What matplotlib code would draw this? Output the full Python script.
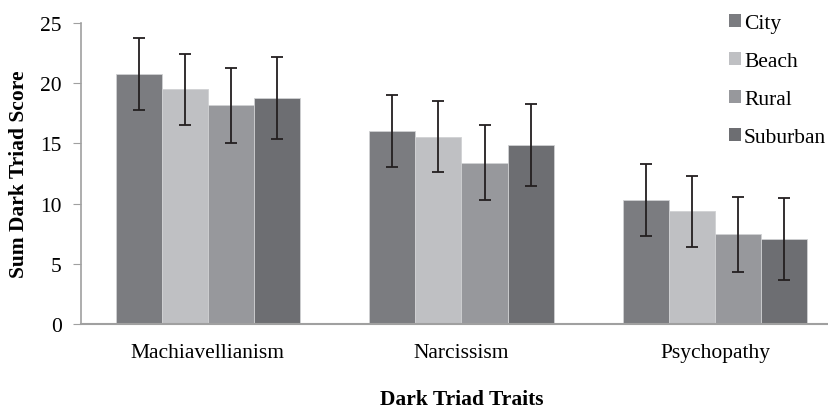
import numpy as np
import matplotlib
matplotlib.use('Agg')
import matplotlib.pyplot as plt
from matplotlib.patches import Patch

traits = ['Machiavellianism', 'Narcissism', 'Psychopathy']
groups = ['City', 'Beach', 'Rural', 'Suburban']
colors = ['#7b7c80', '#bfc0c3', '#97989c', '#6d6e72']

city = [20.75, 16.0, 10.3]
beach = [19.5, 15.55, 9.35]
rural = [18.15, 13.4, 7.45]
suburban = [18.75, 14.85, 7.05]
means = [city, beach, rural, suburban]

city_err = [3.0, 3.0, 3.03]
beach_err = [2.95, 2.95, 2.95]
rural_err = [3.1, 3.1, 3.1]
suburban_err = [3.42, 3.42, 3.42]
errs = [city_err, beach_err, rural_err, suburban_err]

plt.rcParams['font.family'] = ['Liberation Serif', 'DejaVu Serif']

fig = plt.figure(figsize=(8.29, 4.14), dpi=100)
# axes runs slightly past the right edge, like the source image
ax = fig.add_axes([81 / 829, 89 / 414, 761 / 829, 301 / 414])

x = np.arange(len(traits))
w = 0.1815
for i in range(4):
    pos = x + (i - 1.5) * w
    ax.bar(pos, means[i], w, color=colors[i], edgecolor='#d0d1d3', linewidth=0.6,
           label=groups[i], zorder=2)
    ax.errorbar(pos, means[i], yerr=errs[i], fmt='none', ecolor='#231f20',
                elinewidth=1.3, capsize=4.5, capthick=1.3, zorder=3)

ax.set_xlim(-0.5, 2.5)
ax.set_ylim(0, 25)
ax.set_yticks([0, 5, 10, 15, 20, 25])
ax.set_xticks(x)
ax.set_xticklabels(traits)
ax.tick_params(axis='y', labelsize=15.5, length=6, color='#a0a0a0', pad=8)
ax.tick_params(axis='x', labelsize=15.5, length=0, pad=14)

for s in ['top', 'right']:
    ax.spines[s].set_visible(False)
ax.spines['left'].set_color('#a0a0a0')
ax.spines['bottom'].set_color('#a0a0a0')
ax.spines['left'].set_linewidth(1.2)
ax.spines['bottom'].set_linewidth(1.5)

ax.set_ylabel('Sum Dark Triad Score', fontsize=15.5, fontweight='bold', labelpad=8)
fig.text(462 / 829, 4 / 414, 'Dark Triad Traits', fontsize=15.5, fontweight='bold',
         ha='center', va='bottom')

handles = [Patch(facecolor=c, edgecolor='none') for c in colors]
fig.legend(handles, groups, loc='upper left', bbox_to_anchor=(716 / 829, 0.995),
           frameon=False, fontsize=15.5, handlelength=0.55, handleheight=0.55,
           handletextpad=0.15, labelspacing=0.88, borderaxespad=0.2)

fig.savefig('out.png', dpi=100)
